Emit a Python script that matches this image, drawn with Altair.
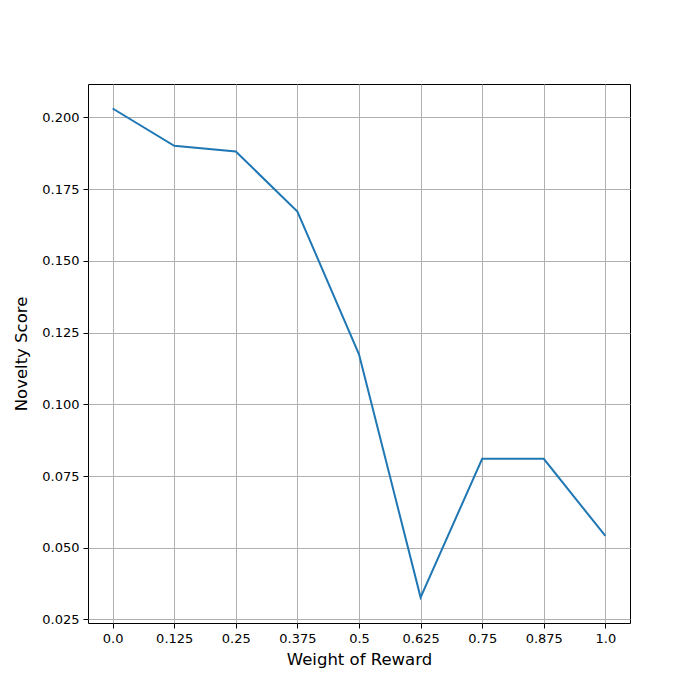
import altair as alt
import pandas as pd

weights = [0.0, 0.125, 0.25, 0.375, 0.5, 0.625, 0.75, 0.875, 1.0]
x_tick_labels = ["0.0", "0.125", "0.25", "0.375", "0.5", "0.625", "0.75", "0.875", "1.0"]
novelty = [0.2031, 0.1901, 0.1881, 0.1672, 0.1174, 0.0327, 0.0810, 0.0810, 0.0541]
y_ticks = [0.025, 0.050, 0.075, 0.100, 0.125, 0.150, 0.175, 0.200]

df = pd.DataFrame({"w": weights, "n": novelty})

label_expr = " : ".join(
    f"datum.value == {v} ? '{s}'" for v, s in zip(weights, x_tick_labels)
) + " : ''"

FONT = "DejaVu Sans"

chart = alt.Chart(df).mark_line(color="#1f77b4", strokeWidth=2, clip=True).encode(
    x=alt.X(
        "w:Q",
        scale=alt.Scale(domain=[-0.05, 1.05], nice=False, zero=False),
        axis=alt.Axis(
            values=weights,
            labelExpr=label_expr,
            title="Weight of Reward",
            titlePadding=6,
        ),
    ),
    y=alt.Y(
        "n:Q",
        scale=alt.Scale(domain=[0.02376, 0.21164], nice=False, zero=False),
        axis=alt.Axis(
            values=y_ticks,
            format=".3f",
            title="Novelty Score",
            titlePadding=12,
        ),
    ),
).properties(
    width=542,
    height=539,
    background="white",
    autosize=alt.AutoSizeParams(type="none"),
    padding={"left": 80, "top": 76, "right": 62, "bottom": 69},
).configure_view(
    stroke="black", strokeWidth=1
).configure_axis(
    grid=True,
    gridColor="#b0b0b0",
    gridWidth=1,
    domain=False,
    ticks=True,
    tickColor="black",
    tickSize=5,
    tickWidth=1,
    labelFont=FONT,
    labelFontSize=13,
    labelColor="black",
    labelPadding=4,
    titleFont=FONT,
    titleFontSize=16.5,
    titleFontWeight="normal",
    titleColor="black",
)

chart.save("out.html", embed_options={"renderer": "svg", "actions": False})
